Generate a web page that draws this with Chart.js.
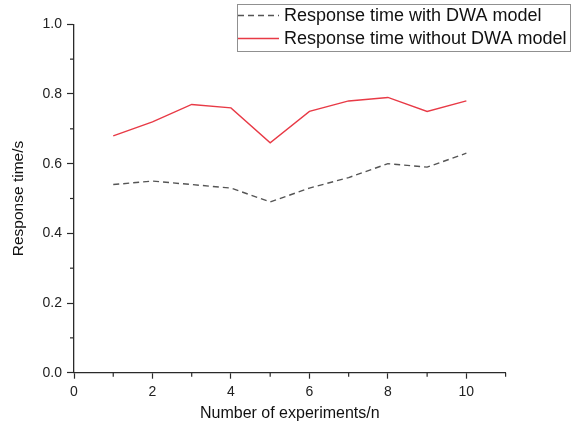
<!DOCTYPE html>
<html>
<head>
<meta charset="utf-8">
<script src="https://cdn.jsdelivr.net/npm/chart.js@4/dist/chart.umd.min.js"></script>
<style>
  html, body { margin: 0; padding: 0; background: #fff; }
  canvas { display: block; }
</style>
</head>
<body>
<canvas id="chart" width="580" height="423"></canvas>
<script>
// --------------------------
// data
// --------------------------
const experiments = [1, 2, 3, 4, 5, 6, 7, 8, 9, 10];
const withDWA = [0.54, 0.55, 0.54, 0.53, 0.49, 0.53, 0.56, 0.60, 0.59, 0.63];
const withoutDWA = [0.68, 0.72, 0.77, 0.76, 0.66, 0.75, 0.78, 0.79, 0.75, 0.78];
const xTicks = [0, 2, 4, 6, 8, 10];
const yTicks = [0, 0.2, 0.4, 0.6, 0.8, 1.0];
const xMinor = [1, 3, 5, 7, 9, 11];
const yMinor = [0.1, 0.3, 0.5, 0.7, 0.9];
const seriesNames = ['Response time with DWA model', 'Response time without DWA model'];

const FONT = '"Liberation Sans", Arial, sans-serif';
const AXIS = '#2a2a2a';

// minor ticks + boxed legend like the Origin plot
const extras = {
  id: 'extras',
  afterDraw(chart) {
    const ctx = chart.ctx;
    const xs = chart.scales.x, ys = chart.scales.y;
    const area = chart.chartArea;
    ctx.save();
    ctx.strokeStyle = AXIS;
    ctx.lineWidth = 1.2;
    xMinor.forEach(v => {
      const px = xs.getPixelForValue(v);
      ctx.beginPath();
      ctx.moveTo(px, area.bottom);
      ctx.lineTo(px, area.bottom + 4);
      ctx.stroke();
    });
    yMinor.forEach(v => {
      const py = ys.getPixelForValue(v);
      ctx.beginPath();
      ctx.moveTo(area.left, py);
      ctx.lineTo(area.left - 4, py);
      ctx.stroke();
    });

    // legend
    const box = { left: 237, top: 4, right: 570, bottom: 51 };
    ctx.strokeStyle = '#909090';
    ctx.lineWidth = 1;
    ctx.strokeRect(box.left + 0.5, box.top + 0.5, box.right - box.left, box.bottom - box.top);
    ctx.font = '18px ' + FONT;
    ctx.textBaseline = 'middle';
    ctx.fillStyle = '#111';
    const rows = [15.5, 38.5];
    chart.data.datasets.forEach((ds, i) => {
      const y = rows[i];
      ctx.strokeStyle = ds.borderColor;
      ctx.lineWidth = ds.borderWidth;
      ctx.setLineDash(ds.borderDash || []);
      ctx.beginPath();
      ctx.moveTo(box.left + 1, y);
      ctx.lineTo(box.left + 42, y);
      ctx.stroke();
      ctx.setLineDash([]);
      ctx.fillText(ds.label, box.left + 47, y + 1);
    });
    ctx.restore();
  }
};

const ctx = document.getElementById('chart').getContext('2d');
new Chart(ctx, {
  type: 'line',
  data: {
    labels: experiments,
    datasets: [
      {
        label: seriesNames[0],
        data: experiments.map((x, i) => ({ x: x, y: withDWA[i] })),
        borderColor: '#555555',
        borderWidth: 1.4,
        borderDash: [6, 4],
        pointRadius: 0,
        tension: 0,
        fill: false
      },
      {
        label: seriesNames[1],
        data: experiments.map((x, i) => ({ x: x, y: withoutDWA[i] })),
        borderColor: '#e83a46',
        borderWidth: 1.4,
        pointRadius: 0,
        tension: 0,
        fill: false
      }
    ]
  },
  options: {
    responsive: false,
    animation: false,
    layout: { padding: { left: 0, right: 74.4, top: 24.3, bottom: 0 } },
    plugins: { legend: { display: false }, tooltip: { enabled: false } },
    scales: {
      x: {
        type: 'linear',
        min: 0,
        max: 11,
        afterBuildTicks: s => { s.ticks = xTicks.map(v => ({ value: v })); },
        afterFit: s => { s.height = 50.3; },
        ticks: { color: '#222', font: { family: FONT, size: 14 }, padding: 5, maxRotation: 0 },
        grid: { drawOnChartArea: false, tickLength: 6, tickColor: AXIS, tickWidth: 1.2 },
        border: { display: true, color: AXIS, width: 1.3 },
        title: {
          display: true,
          text: 'Number of experiments/n',
          color: '#111',
          font: { family: FONT, size: 16 },
          padding: { top: 0, bottom: 0 }
        }
      },
      y: {
        type: 'linear',
        min: 0,
        max: 1.0,
        afterBuildTicks: s => { s.ticks = yTicks.map(v => ({ value: v })); },
        afterFit: s => { s.width = 74; },
        ticks: {
          color: '#222',
          font: { family: FONT, size: 14 },
          padding: 5,
          callback: v => Number(v).toFixed(1)
        },
        grid: { drawOnChartArea: false, tickLength: 7, tickColor: AXIS, tickWidth: 1.2 },
        border: { display: true, color: AXIS, width: 1.3 },
        title: {
          display: true,
          text: 'Response time/s',
          color: '#111',
          font: { family: FONT, size: 15.5 },
          padding: { top: 9, bottom: 0 }
        }
      }
    }
  },
  plugins: [extras]
});
</script>
</body>
</html>
